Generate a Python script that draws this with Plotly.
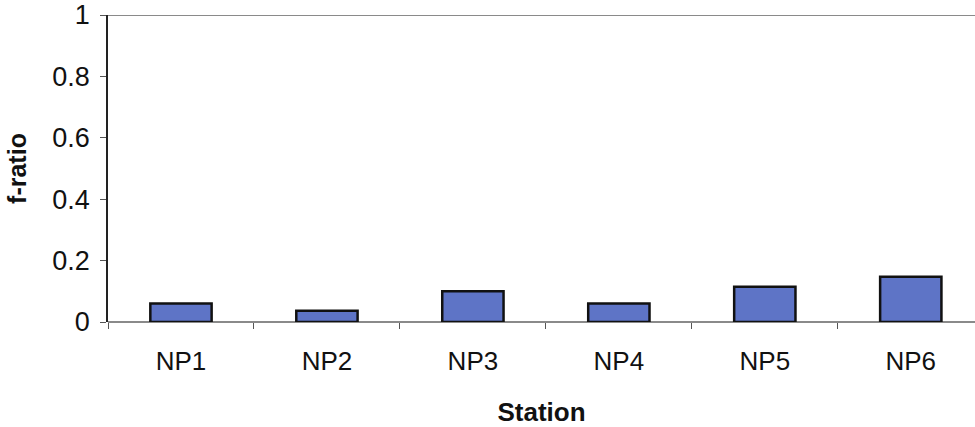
import plotly.graph_objects as go

stations = ["NP1", "NP2", "NP3", "NP4", "NP5", "NP6"]
f_ratio = [0.06, 0.037, 0.10, 0.06, 0.115, 0.147]

FONT = "Liberation Sans, Arial, sans-serif"

fig = go.Figure()
fig.add_trace(go.Bar(
    x=stations,
    y=f_ratio,
    width=0.42,
    marker=dict(color="#5E74C6", line=dict(color="#111111", width=2.5)),
))

# plot-area top border at f-ratio = 1
fig.add_shape(type="line", xref="paper", yref="y", x0=0, x1=1, y0=1, y1=1,
              line=dict(color="#8a8a8a", width=2))

fig.update_layout(
    width=975, height=427,
    margin=dict(l=108, r=0, t=15, b=105),
    paper_bgcolor="white", plot_bgcolor="white",
    showlegend=False,
    font=dict(family=FONT, color="#111111"),
    xaxis=dict(
        type="category",
        range=[-0.5, 5.44],
        showline=False,
        showgrid=False,
        zeroline=False,
        ticks="outside", ticklen=6, tickcolor="#555555",
        tickson="boundaries",
        tickfont=dict(size=26),
        ticklabelstandoff=21,
        title=dict(text="<b>Station</b>", font=dict(size=26), standoff=28),
    ),
    yaxis=dict(
        range=[0, 1],
        tickvals=[0, 0.2, 0.4, 0.6, 0.8, 1],
        ticktext=["0", "0.2", "0.4", "0.6", "0.8", "1"],
        showline=True, linecolor="#222222", linewidth=1.5,
        showgrid=False,
        zeroline=True, zerolinecolor="#8a8a8a", zerolinewidth=2,
        ticks="outside", ticklen=6, tickcolor="#555555",
        tickfont=dict(size=27),
        ticklabelstandoff=5,
        title=dict(text="<b>f-ratio</b>", font=dict(size=25), standoff=19),
    ),
)

fig.write_html("out.html")
